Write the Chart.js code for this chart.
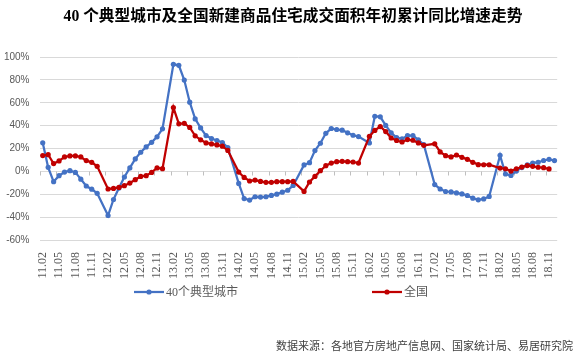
<!DOCTYPE html>
<html>
<head>
<meta charset="utf-8">
<script src="https://cdn.jsdelivr.net/npm/chart.js@4.4.1/dist/chart.umd.min.js"></script>
<style>
  html, body { margin: 0; padding: 0; background: #ffffff; }
  #wrap { position: relative; width: 581px; height: 353px; overflow: hidden; background: #fff; }
  #c { position: absolute; left: 0; top: 0; }
  .title { position: absolute; left: 0; width: 581px; top: 3px; text-align: center; padding-left: 5px; box-sizing: border-box;
           font: bold 15.7px "Liberation Serif", "Noto Sans CJK SC", serif; color: #000; white-space: nowrap; }
  .legend-item { position: absolute; top: 284px; height: 16px; font: 12px "Liberation Serif", "Noto Sans CJK SC", serif; color: #595959; white-space: nowrap; }
  .legend-item canvas { position: absolute; left: 0; top: 4px; }
  .legend-item span { position: absolute; top: 0; line-height: 16px; }
  .source { position: absolute; right: 8px; top: 337px; font: 11px "Liberation Serif", "Noto Sans CJK SC", serif; color: #404040; white-space: nowrap; }
</style>
</head>
<body>
<div id="wrap">
  <canvas id="c" width="581" height="353"></canvas>
  <div class="title">40 个典型城市及全国新建商品住宅成交面积年初累计同比增速走势</div>
  <div id="legend"></div>
  <div class="source">数据来源：各地官方房地产信息网、国家统计局、易居研究院</div>
</div>
<script>
// Categories: monthly, Jan-Feb reported together (January has no value)
const categories = [
  '11.02','11.03','11.04','11.05','11.06','11.07','11.08','11.09','11.10','11.11','11.12',
  '12.01','12.02','12.03','12.04','12.05','12.06','12.07','12.08','12.09','12.10','12.11','12.12',
  '13.01','13.02','13.03','13.04','13.05','13.06','13.07','13.08','13.09','13.10','13.11','13.12',
  '14.01','14.02','14.03','14.04','14.05','14.06','14.07','14.08','14.09','14.10','14.11','14.12',
  '15.01','15.02','15.03','15.04','15.05','15.06','15.07','15.08','15.09','15.10','15.11','15.12',
  '16.01','16.02','16.03','16.04','16.05','16.06','16.07','16.08','16.09','16.10','16.11','16.12',
  '17.01','17.02','17.03','17.04','17.05','17.06','17.07','17.08','17.09','17.10','17.11','17.12',
  '18.01','18.02','18.03','18.04','18.05','18.06','18.07','18.08','18.09','18.10','18.11','18.12'
];

const seriesNames = ['40个典型城市', '全国'];

// 40 typical cities (%)
const cities40 = [
  25, 3.5, -9, -3.8, -0.6, 0.6, -0.9, -6.8, -12.8, -15.6, -19.2,
  null, -38.6, -24.6, -14.6, -4.9, 3, 10.9, 16.7, 21.4, 25.4, 30.2, 37.2,
  null, 93.6, 92.7, 79.8, 60.5, 45.9, 38, 31.3, 28.7, 27, 25.2, 20.8,
  null, -10.5, -23.8, -25.1, -22.2, -22.5, -22.2, -21, -19.9, -18.2, -16.5, -12.3,
  null, 5.6, 7.6, 18.2, 24.6, 33.3, 37.5, 36.6, 36, 33.7, 31.6, 30.4,
  null, 24.9, 48.2, 47.7, 40.2, 33.6, 29.5, 28.4, 31.3, 31.3, 27.5, 23.4,
  null, -11.5, -15.4, -17.6, -18, -18.8, -19.7, -21.1, -23.4, -24.9, -24.1, -21.9,
  null, 14, -2.3, -3.5, 0.3, 3.3, 5.8, 7.3, 8, 9.5, 10.5, 9.4
];

// National (%)
const national = [
  13.8, 14.6, 6.8, 9.1, 12.6, 13.5, 13.5, 12.6, 9.4, 7.9, 4.4,
  null, -15.4, -14.9, -14, -12.5, -10.2, -7.3, -4.4, -3.8, -0.9, 3, 2.4,
  null, 55.8, 41.6, 42, 38.4, 31.1, 27.6, 24.9, 24, 23.1, 22, 18.3,
  null, -0.6, -5.3, -8.4, -7.6, -8.8, -9.6, -9.6, -9, -9, -9, -8.8,
  null, -17.5, -9.3, -4.4, 0.6, 5, 7.3, 8.5, 8.8, 8.5, 8.2, 7.3,
  null, 30.7, 35.8, 39.2, 34.8, 29.2, 27, 25.7, 27.8, 27.2, 24.9, 22.8,
  null, 24.1, 17, 13.7, 12.6, 14.3, 12.3, 10.5, 7.9, 5.9, 5.8, 5.8,
  null, 2.9, 2.3, 0.3, 2.3, 3.8, 5.1, 4.4, 3.6, 3.2, 2.1, null
];

const yTicks = [-60, -40, -20, 0, 20, 40, 60, 80, 100];
const colors = ['#4472C4', '#C00000'];

const axisTicks = {
  id: 'axisTicks',
  beforeDatasetsDraw(chart) {
    const xs = chart.scales.x, ys = chart.scales.y, ctx = chart.ctx;
    const y0 = Math.round(ys.getPixelForValue(0)) + 0.5;
    const half = (xs.getPixelForValue(1) - xs.getPixelForValue(0)) / 2;
    ctx.save();
    ctx.strokeStyle = '#bfbfbf';
    ctx.lineWidth = 1;
    ctx.beginPath();
    for (let i = 0; i < categories.length; i += 3) {
      const px = Math.round(xs.getPixelForValue(i) - half) + 0.5;
      ctx.moveTo(px, y0);
      ctx.lineTo(px, y0 + 4);
    }
    ctx.stroke();
    ctx.restore();
  }
};

const chart = new Chart(document.getElementById('c'), {
  type: 'line',
  data: {
    labels: categories,
    datasets: [
      { label: seriesNames[0], data: cities40, borderColor: colors[0], backgroundColor: colors[0],
        borderWidth: 2.25, pointRadius: 2.6, pointBorderWidth: 0, pointBackgroundColor: colors[0],
        spanGaps: true, tension: 0, order: 2 },
      { label: seriesNames[1], data: national, borderColor: colors[1], backgroundColor: colors[1],
        borderWidth: 2.25, pointRadius: 2.6, pointBorderWidth: 0, pointBackgroundColor: colors[1],
        spanGaps: true, tension: 0, order: 1 }
    ]
  },
  options: {
    responsive: false,
    animation: false,
    devicePixelRatio: 1,
    layout: { padding: { top: 57, left: 4, right: 20, bottom: 74 } },
    plugins: { legend: { display: false }, tooltip: { enabled: false }, title: { display: false } },
    scales: {
      x: {
        offset: true,
        grid: { display: false, drawTicks: false },
        border: { display: false },
        afterFit: (s) => { s.height = 39; },
        ticks: {
          autoSkip: false, minRotation: 90, maxRotation: 90, padding: 12,
          color: '#595959', font: { family: '"Liberation Serif", serif', size: 12 },
          callback: (v, i) => (i % 3 === 0 ? categories[i] : '')
        }
      },
      y: {
        min: -60, max: 100,
        afterBuildTicks: (s) => { s.ticks = yTicks.map(v => ({ value: v })); },
        afterFit: (s) => { s.width = 36; },
        grid: { color: '#d9d9d9', lineWidth: 1, drawTicks: false },
        border: { display: false },
        ticks: { padding: 10.5, color: '#595959', font: { family: '"Liberation Sans", Arial, sans-serif', size: 10 },
                 callback: (v) => v + '%' }
      }
    }
  },
  plugins: [axisTicks]
});

// HTML legend built from the datasets
(function buildLegend() {
  const lg = document.getElementById('legend');
  const lefts = [134, 372];
  chart.data.datasets.forEach((ds, i) => {
    const item = document.createElement('div');
    item.className = 'legend-item';
    item.style.left = lefts[i] + 'px';
    const cv = document.createElement('canvas');
    cv.width = 30; cv.height = 8;
    const g = cv.getContext('2d');
    g.strokeStyle = ds.borderColor; g.lineWidth = 2.25;
    g.beginPath(); g.moveTo(0, 4); g.lineTo(30, 4); g.stroke();
    g.fillStyle = ds.borderColor; g.beginPath(); g.arc(15, 4, 2.6, 0, Math.PI * 2); g.fill();
    const sp = document.createElement('span');
    sp.style.left = '32px';
    sp.textContent = ds.label;
    item.appendChild(cv); item.appendChild(sp);
    lg.appendChild(item);
  });
})();
</script>
</body>
</html>
